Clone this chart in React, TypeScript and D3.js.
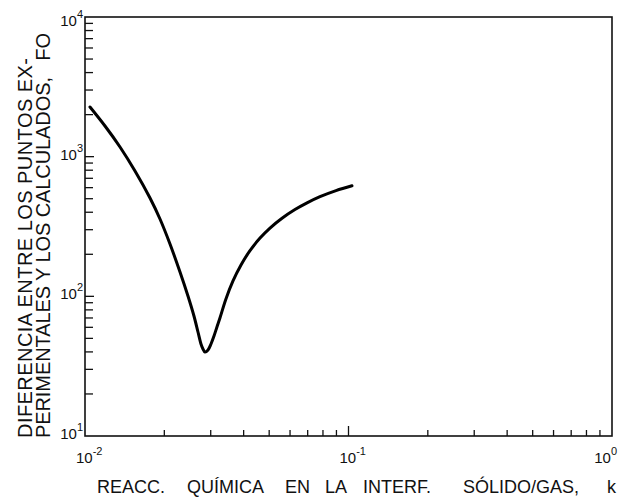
import React from "react";
import * as d3 from "d3";

// Reaction rate constant k (x) and FO difference (y)
const kValues = [
  0.010447, 0.011911, 0.013579, 0.015481, 0.017648, 0.019259, 0.021018, 0.022937, 0.02459, 0.025913,
  0.026838, 0.027551, 0.028036, 0.028526,
  0.029297, 0.030074, 0.030871, 0.031676, 0.032517, 0.034267, 0.036445, 0.039087, 0.042281, 0.046155,
  0.050358, 0.055947, 0.062644, 0.069604, 0.077939, 0.089672, 0.1031,
];
const foValues = [
  2268, 1658, 1173, 789.3, 505.9, 357.9, 237.0, 149.3, 100.5, 72.3,
  55.55, 45.58, 41.97, 39.9,
  41.28, 45.58, 52.0, 60.32, 69.96, 95.7, 128.8, 167.6, 212.5, 261.2,
  308.0, 362.1, 417.9, 466.7, 516.9, 571.5, 618.6,
];

const xTickExps = [-2, -1, 0];
const yTickExps = [1, 2, 3, 4];

const yTitleLines = ["DIFERENCIA ENTRE LOS PUNTOS EX-", "PERIMENTALES Y LOS CALCULADOS,   FO"];
const xTitleWords = ["REACC.", "QUÍMICA", "EN", "LA", "INTERF.", "SÓLIDO/GAS,", "k"];

const W = 627;
const H = 500;
const M = { left: 85, right: 15, top: 17, bottom: 64 };
const FONT = "'Liberation Sans', Arial, sans-serif";

export default function App() {
  const x = d3.scaleLog().domain([0.01, 1]).range([M.left, W - M.right]);
  const y = d3.scaleLog().domain([10, 10000]).range([H - M.bottom, M.top]);
  const x0 = M.left, x1 = W - M.right, y0 = H - M.bottom, y1 = M.top;

  const pts: [number, number][] = kValues.map((k, i) => [x(k), y(foValues[i])]);
  const line = d3.line().curve(d3.curveCatmullRom.alpha(0.5));
  const path = line(pts) || "";

  const xTicks: { v: number; major: boolean }[] = [];
  for (let e = -2; e < 0; e++) {
    for (let m = 1; m <= 9; m++) {
      xTicks.push({ v: m * Math.pow(10, e), major: m === 1 });
    }
  }
  const yTicks: { v: number; major: boolean }[] = [];
  for (let e = 1; e < 4; e++) {
    for (let m = 1; m <= 9; m++) {
      yTicks.push({ v: m * Math.pow(10, e), major: m === 1 });
    }
  }

  const xTitleStarts = [97, 187, 285, 325, 363, 463, 607];
  const yTitleLengths = [380, 405];

  return (
    <svg
      width={W}
      height={H}
      style={{ position: "absolute", left: 0, top: 0, background: "#fff" }}
      fontFamily={FONT}
    >
      <rect x={0} y={0} width={W} height={H} fill="#fff" />
      <rect x={x0} y={y1} width={x1 - x0} height={y0 - y1} fill="none" stroke="#111" strokeWidth={1.6} />
      {xTicks.map((t, i) => {
        const px = x(t.v);
        if (Math.abs(px - x0) < 1) return null;
        return <line key={"xt" + i} x1={px} x2={px} y1={y0} y2={y0 - (t.major ? 10 : 6)} stroke="#111" strokeWidth={1.3} />;
      })}
      {yTicks.map((t, i) => {
        const py = y(t.v);
        if (Math.abs(py - y0) < 1) return null;
        return <line key={"yt" + i} x1={x0} x2={x0 + (t.major ? 9 : 8)} y1={py} y2={py} stroke="#111" strokeWidth={1.3} />;
      })}
      {yTickExps.map((e) => {
        const py = y(Math.pow(10, e));
        const by = Math.max(py + 3, 26);
        return (
          <text key={"yl" + e} x={83} y={by} textAnchor="end" fontSize={15} fill="#111">
            10
            <tspan dy={-8} fontSize={11}>{e}</tspan>
          </text>
        );
      })}
      {xTickExps.map((e, i) => {
        const px = x(Math.pow(10, e));
        const last = i === xTickExps.length - 1;
        return (
          <text
            key={"xl" + e}
            x={last ? 617 : px - 9}
            y={463}
            textAnchor={last ? "end" : "start"}
            fontSize={15}
            fill="#111"
          >
            10
            <tspan dy={-8} fontSize={11}>{e === 0 ? "0" : "-" + Math.abs(e)}</tspan>
          </text>
        );
      })}
      <path d={path} fill="none" stroke="#000" strokeWidth={3} strokeLinecap="round" strokeLinejoin="round" />
      {yTitleLines.map((s, i) => (
        <text
          key={"ytl" + i}
          transform={`translate(${32 + i * 18}, 438) rotate(-90)`}
          fontSize={20}
          textLength={yTitleLengths[i]}
          lengthAdjust="spacing"
          fill="#111"
          style={{ whiteSpace: "pre" }}
        >
          {s}
        </text>
      ))}
      <text y={493} fontSize={18} fill="#111">
        {xTitleWords.map((w, i) => (
          <tspan key={"xw" + i} x={xTitleStarts[i]}>{w}</tspan>
        ))}
      </text>
    </svg>
  );
}
